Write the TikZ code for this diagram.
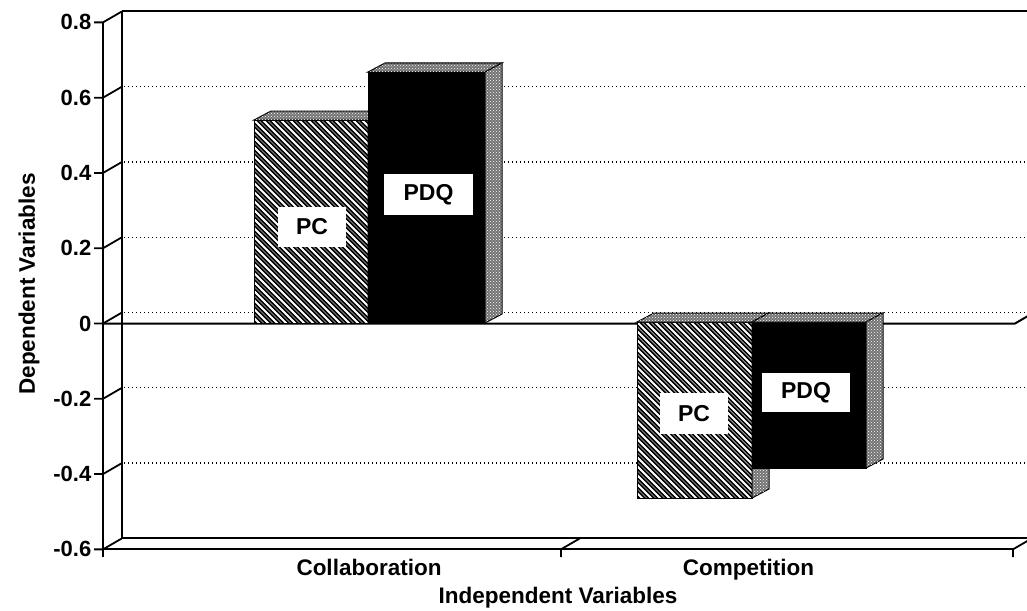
\documentclass[tikz,border=0pt]{standalone}
\usepackage{fontspec}
\setmainfont{Liberation Sans}
\usetikzlibrary{patterns}

% hatched bar face: black ground with white diagonal stripes
\newcommand\hatchrect[4]{%
  \begin{scope}
    \clip (#1,#2) rectangle (#3,#4);
    \fill[black] (#1,#2) rectangle (#3,#4);
    \foreach \s in {-243,-234,...,130}{%
      \draw[white,line width=2.1pt,xshift=\s pt] (#1,#2) -- ++(300,300);
      \draw[white!75!black,line width=0.7pt,xshift=\s pt,xshift=4.5pt] (#1,#2) -- ++(300,300);
    }
  \end{scope}
  \draw[line width=1pt] (#1,#2) rectangle (#3,#4);}

\begin{document}
\begin{tikzpicture}[x=1pt,y=-1pt,
  axisline/.style={line width=1.8pt},
  wallline/.style={line width=1.3pt},
  gridline/.style={line width=1.3pt,dash pattern=on 1.4pt off 2.6pt},
  ticklbl/.style={anchor=east,inner sep=0pt,font=\fontsize{22}{24}\selectfont\bfseries},
  catlbl/.style={anchor=base,inner sep=0pt,font=\fontsize{22.5}{25}\selectfont\bfseries},
  stipple/.style={draw=black,line width=1pt,fill=black!55,postaction={pattern=crosshatch dots,pattern color=white}},
  darkface/.style={draw=black,line width=1pt,fill=black},
  barlbl/.style={fill=white,inner sep=0pt,font=\fontsize{23}{25}\selectfont\bfseries}]

\useasboundingbox (0,0) rectangle (1027,610);
\clip (0,0) rectangle (1027,610);

% back wall: top edge, left edge, floor edge
\draw[line width=2.2pt] (122,11) -- (1040,11);
\draw[wallline] (122,11) -- (122,538);
\draw[axisline] (122,538) -- (1040,538);

% dotted gridlines on the back wall
\foreach \v in {0.6,0.4,0.2,0,-0.2,-0.4}{
  \pgfmathsetmacro\yy{323.5-376.4*\v-11}
  \draw[gridline] (124,\yy) -- (1040,\yy);
}

% front value axis with ticks, labels and depth links
\draw[axisline] (103,22) -- (103,557);
\foreach \v/\t in {0.8/0.8,0.6/0.6,0.4/0.4,0.2/0.2,0/0,-0.2/-0.2,-0.4/-0.4,-0.6/-0.6}{
  \pgfmathsetmacro\yy{323.5-376.4*\v}
  \draw[axisline] (94,\yy) -- (103,\yy) -- (122,\yy-11);
  \node[ticklbl] (tick\t) at (91.5,\yy) {\t};
}

% zero plane front edge
\draw[line width=2pt] (103,323.5) -- (1015,323.5) -- (1034,312.5);

% floor front edge with category ticks
\draw[axisline] (103,549.3) -- (1013,549.3);
\draw[axisline] (561,557) -- (561,549.3) -- (580,538.3);
\draw[axisline] (1013,557) -- (1013,549.3) -- (1032,538.3);

% Collaboration: PC bar
\hatchrect{254}{120}{368}{323}
\draw[stipple] (254,120) -- (271,111) -- (385,111) -- (368,120) -- cycle;
\draw[stipple] (368,120) -- (385,111) -- (385,314) -- (368,323) -- cycle;
% Collaboration: PDQ bar
\draw[darkface] (368,72) rectangle (485,323);
\draw[stipple] (368,72) -- (385,63) -- (502,63) -- (485,72) -- cycle;
\draw[stipple] (485,72) -- (502,63) -- (502,314) -- (485,323) -- cycle;

% Competition: PC bar
\hatchrect{637}{322}{752}{498}
\draw[stipple] (637,322) -- (654,313) -- (769,313) -- (752,322) -- cycle;
\draw[stipple] (752,322) -- (769,313) -- (769,489) -- (752,498) -- cycle;
% Competition: PDQ bar
\draw[darkface] (752,322) rectangle (866,468);
\draw[stipple] (752,322) -- (769,313) -- (883,313) -- (866,322) -- cycle;
\draw[stipple] (866,322) -- (883,313) -- (883,459) -- (866,468) -- cycle;

% series labels on the bars
\node[barlbl,minimum width=68pt,minimum height=40pt] (pcA) at (312,227) {PC};
\node[barlbl,minimum width=89pt,minimum height=41pt] (pdqA) at (428.5,194.5) {PDQ};
\node[barlbl,minimum width=68pt,minimum height=41pt] (pcB) at (694,413.5) {PC};
\node[barlbl,minimum width=88pt,minimum height=39pt] (pdqB) at (806,392.5) {PDQ};

% axis titles and category names
\node[catlbl] (collab) at (369,575) {Collaboration};
\node[catlbl] (compet) at (748.5,575) {Competition};
\node[catlbl] (xtitle) at (558,603) {Independent Variables};
\node[rotate=90,inner sep=0pt,font=\fontsize{22.5}{25}\selectfont\bfseries] (ytitle) at (29,284) {Dependent Variables};
\end{tikzpicture}
\end{document}
